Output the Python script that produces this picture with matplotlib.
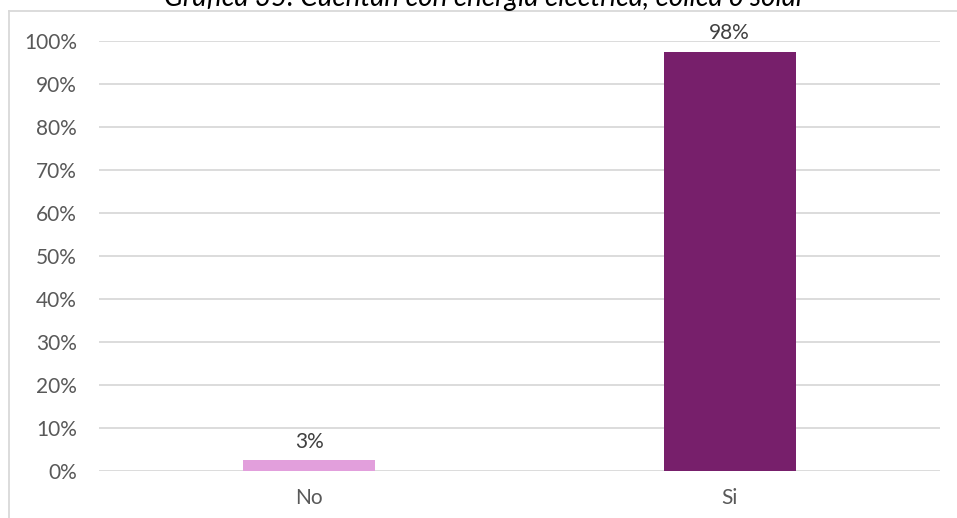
import matplotlib
matplotlib.use("Agg")
import matplotlib.pyplot as plt
from matplotlib.lines import Line2D

categories = ["No", "Si"]
values = [2.5, 97.5]
labels = ["3%", "98%"]
colors = ["#e29fdc", "#771f6b"]
yticks = list(range(0, 101, 10))
title = "Gráfica 35. Cuentan con energía eléctrica, eólica o solar"

plt.rcParams['font.family'] = ['Lato', 'DejaVu Sans']

W, H = 957, 518
fig = plt.figure(figsize=(W/100, H/100), dpi=100)
ax = fig.add_axes([99/W, 1-471/H, (940-99)/W, (471-41)/H])

x = range(len(categories))
ax.bar(x, values, width=0.314, color=colors, zorder=3)
for xi, v, lab in zip(x, values, labels):
    ax.annotate(lab, (xi, v), xytext=(0, 6), textcoords="offset points",
                ha="center", va="bottom", fontsize=15, color="#404040")

ax.set_xlim(-0.5, 1.5)
ax.set_ylim(0, 100)
ax.set_yticks(yticks)
ax.set_yticklabels([f"{t}%" for t in yticks])
ax.set_xticks(list(x))
ax.set_xticklabels(categories)
ax.grid(axis="y", color="#d9d9d9", linewidth=1.3, zorder=0)
for s in ax.spines.values():
    s.set_visible(False)
ax.tick_params(axis="both", length=0, labelsize=15, labelcolor="#595959")
ax.tick_params(axis="y", pad=16)
ax.tick_params(axis="x", pad=12)

# outer frame (left and top edges)
fig.add_artist(Line2D([9/W, 9/W], [0, 1-11/H], transform=fig.transFigure, color="#d9d9d9", lw=1.3))
fig.add_artist(Line2D([9/W, 1], [1-11/H, 1-11/H], transform=fig.transFigure, color="#d9d9d9", lw=1.3))

fig.text(485/W, 1-6/H, title, ha="center", va="baseline", fontsize=20, style="italic",
         color="#000000")

fig.savefig("out.png", dpi=100, facecolor="white")
